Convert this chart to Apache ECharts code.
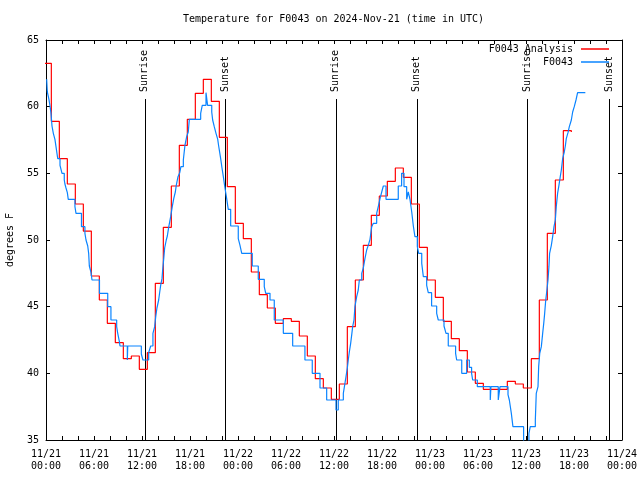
<!DOCTYPE html>
<html>
<head>
<meta charset="utf-8">
<script src="https://cdn.jsdelivr.net/npm/echarts@6/dist/echarts.min.js"></script>
<style>html,body{margin:0;padding:0;background:#fff;}#c{width:640px;height:480px;}</style>
</head>
<body>
<div id="c"></div>
<script>
// ---- data (times in UTC) ----
var titleText = 'Temperature for F0043 on 2024-Nov-21 (time in UTC)';
var seriesNames = ['F0043 Analysis', 'F0043'];
var yMin = 35, yMax = 65, yStep = 5;
var xStart = '11/21 00:00', xEnd = '11/24 00:00';

var redTimes = ['11/20 23:40','11/21 00:40','11/21 01:40','11/21 02:40','11/21 03:40','11/21 04:40','11/21 05:40','11/21 06:40','11/21 07:40','11/21 08:40','11/21 09:40','11/21 10:40','11/21 11:40','11/21 12:40','11/21 13:40','11/21 14:40','11/21 15:40','11/21 16:40','11/21 17:40','11/21 18:40','11/21 19:40','11/21 20:40','11/21 21:40','11/21 22:40','11/21 23:40',
'11/22 00:40','11/22 01:40','11/22 02:40','11/22 03:40','11/22 04:40','11/22 05:40','11/22 06:40','11/22 07:40','11/22 08:40','11/22 09:40','11/22 10:40','11/22 11:40','11/22 12:40','11/22 13:40','11/22 14:40','11/22 15:40','11/22 16:40','11/22 17:40','11/22 18:40','11/22 19:40','11/22 20:40','11/22 21:40','11/22 22:40','11/22 23:40',
'11/23 00:40','11/23 01:40','11/23 02:40','11/23 03:40','11/23 04:40','11/23 05:40','11/23 06:40','11/23 07:40','11/23 08:40','11/23 09:40','11/23 10:40','11/23 11:40','11/23 12:40','11/23 13:40','11/23 14:40','11/23 15:40','11/23 16:40','11/23 17:40'];
var redTemps = [63.25,58.9,56.1,54.2,52.7,50.67,47.3,45.5,43.75,42.3,41.1,41.3,40.3,41.55,46.75,50.95,54.05,57.1,59.05,61.0,62.05,60.4,57.7,54.0,51.25,
50.1,47.6,45.9,44.9,43.75,44.1,43.9,42.8,41.3,39.6,38.9,38.05,39.2,43.5,47.0,49.6,51.85,53.3,54.4,55.4,54.7,52.7,49.45,47.0,
45.7,43.9,42.6,41.7,40.1,39.25,38.8,38.8,38.8,39.4,39.2,38.9,41.1,45.5,50.5,54.5,58.2,58.1];

var blueTimes = ['11/21 00:05','11/21 00:10','11/21 00:22','11/21 00:30','11/21 00:37','11/21 00:45','11/21 00:55','11/21 01:07','11/21 01:15','11/21 01:28','11/21 01:45','11/21 02:00','11/21 02:17','11/21 02:22','11/21 02:30','11/21 02:40','11/21 02:47','11/21 03:37','11/21 03:45','11/21 04:26','11/21 04:52','11/21 05:00','11/21 05:13','11/21 05:20','11/21 05:25','11/21 05:37','11/21 05:45','11/21 06:41','11/21 07:43','11/21 08:07','11/21 08:50','11/21 08:58','11/21 09:10','11/21 09:15','11/21 10:10','11/21 10:13','11/21 11:55','11/21 12:07','11/21 12:50','11/21 13:05','11/21 13:22','11/21 13:35','11/21 13:43','11/21 13:52','11/21 14:05','11/21 14:13','11/21 14:20','11/21 14:30','11/21 14:35','11/21 14:43','11/21 14:50','11/21 15:02','11/21 15:10','11/21 15:20','11/21 15:35','11/21 15:47','11/21 15:58','11/21 16:10','11/21 16:17','11/21 16:30','11/21 16:43','11/21 16:52','11/21 17:10','11/21 17:22','11/21 17:35','11/21 17:47','11/21 17:55','11/21 19:20','11/21 19:32','11/21 20:00','11/21 20:12','11/21 20:43','11/21 20:50','11/21 21:02','11/21 21:15','11/21 21:28','11/21 21:35','11/21 21:50','11/21 22:00','11/21 22:10','11/21 22:20','11/21 22:35','11/21 22:47','11/21 23:05',
'11/22 00:02','11/22 00:15','11/22 00:28','11/22 01:47','11/22 02:32','11/22 03:17','11/22 03:28','11/22 04:00','11/22 04:32','11/22 05:40','11/22 06:50','11/22 08:22','11/22 09:17','11/22 10:15','11/22 11:05','11/22 12:15','11/22 12:32','11/22 13:10','11/22 13:22','11/22 13:30','11/22 13:40','11/22 13:47','11/22 13:55','11/22 14:05','11/22 14:13','11/22 14:20','11/22 14:30','11/22 14:37','11/22 14:50','11/22 15:02','11/22 15:10','11/22 15:28','11/22 15:40','11/22 15:52','11/22 16:05','11/22 16:17','11/22 16:30','11/22 16:43','11/22 16:55','11/22 17:20','11/22 17:32','11/22 17:45','11/22 17:58','11/22 18:10','11/22 18:30','11/22 20:02','11/22 20:27','11/22 20:45','11/22 21:05','11/22 21:17','11/22 21:30','11/22 21:43','11/22 21:55','11/22 22:07','11/22 22:25','11/22 22:35','11/22 22:58','11/22 23:10','11/22 23:35','11/22 23:47',
'11/23 00:12','11/23 00:50','11/23 01:02','11/23 01:45','11/23 02:00','11/23 02:17','11/23 03:12','11/23 03:20','11/23 03:58','11/23 04:35','11/23 04:55','11/23 05:12','11/23 05:20','11/23 05:55','11/23 07:32','11/23 07:37','11/23 08:32','11/23 08:45','11/23 09:45','11/23 09:55','11/23 10:10','11/23 10:22','11/23 11:42','11/23 12:22','11/23 12:32','11/23 13:10','11/23 13:17','11/23 13:30','11/23 13:35','11/23 13:43','11/23 13:55','11/23 14:05','11/23 14:13','11/23 14:20','11/23 14:28','11/23 14:37','11/23 14:45','11/23 14:52','11/23 14:57','11/23 15:10','11/23 15:20','11/23 15:30','11/23 15:40','11/23 15:47','11/23 15:57','11/23 16:07','11/23 16:17','11/23 16:25','11/23 16:35','11/23 16:47','11/23 16:55','11/23 17:02','11/23 17:15','11/23 17:25','11/23 17:40','11/23 17:50','11/23 18:02','11/23 18:15','11/23 18:27','11/23 19:25'];
var blueTemps = [62.05,61.1,60.55,60.05,59.55,58.55,58.0,57.55,57.0,56.1,55.6,55.0,54.5,54.2,53.9,53.55,53.05,52.5,52.0,51.0,50.5,50.0,49.55,49.0,48.05,47.6,47.0,46.0,45.0,44.0,43.5,43.0,42.4,42.05,41.0,42.05,41.45,41.0,41.55,42.05,43.0,43.5,44.25,44.9,45.5,46.1,46.6,47.1,47.75,48.6,49.4,50.0,50.3,50.95,51.75,52.5,53.1,53.6,54.1,54.75,55.05,55.5,56.0,57.1,57.75,58.1,59.05,59.5,60.1,61.05,60.1,59.6,59.0,58.5,58.0,57.55,57.05,56.1,55.4,54.75,54.05,53.1,52.3,51.05,
50.1,49.6,49.0,48.05,47.05,46.5,46.0,45.5,44.0,43.0,42.05,41.0,40.0,38.9,38.0,37.25,38.0,38.5,39.25,39.75,40.4,41.0,41.6,42.25,42.9,43.5,44.0,45.0,45.75,46.25,47.0,47.5,47.9,48.6,49.25,49.6,50.05,51.0,51.25,52.0,52.5,53.1,53.6,54.05,53.05,54.05,55.0,54.0,53.05,53.6,53.05,52.1,51.05,50.25,49.5,49.0,48.25,47.25,46.6,46.05,
45.05,44.5,44.0,43.55,43.0,42.05,41.5,41.0,40.0,41.0,40.45,40.0,39.5,39.0,38.0,39.0,38.0,39.0,38.4,38.0,37.0,36.0,34.8,35.5,36.0,36.5,38.5,39.0,40.5,41.5,42.0,43.0,43.75,44.5,45.5,46.25,47.0,48.0,49.0,49.6,50.25,51.0,51.5,52.5,53.5,54.1,54.75,55.25,56.1,56.6,57.05,57.6,58.05,58.5,59.0,59.6,60.0,60.5,61.05,61.05];

var sunTimes = ['11/21 12:19','11/21 22:26','11/22 12:13','11/22 22:20','11/23 12:10','11/23 22:22'];
var sunLabels = ['Sunrise','Sunset','Sunrise','Sunset','Sunrise','Sunset'];

// ---- helpers ----
function toMs(s){
  var p = s.split(' '), md = p[0].split('/'), hm = p[1].split(':');
  return Date.UTC(2024, +md[0]-1, +md[1], +hm[0], +hm[1]);
}
function pad(n){ return (n<10?'0':'')+n; }
function fmtX(v){
  var d = new Date(v);
  return pad(d.getUTCMonth()+1)+'/'+pad(d.getUTCDate())+'\n'+pad(d.getUTCHours())+':'+pad(d.getUTCMinutes());
}
function pairs(ts, vs){ return ts.map(function(t,i){ return [toMs(t), vs[i]]; }); }

var FONT = 'DejaVu Sans Mono';
var HOUR = 3600*1000;
var xMinV = toMs(xStart), xMaxV = toMs(xEnd);

var baseX = {
  type:'value', min:xMinV, max:xMaxV, interval:6*HOUR,
  axisLine:{show:true, lineStyle:{color:'#000', width:1}},
  axisTick:{show:true, inside:true, length:4, lineStyle:{color:'#000'}},
  minorTick:{show:true, splitNumber:3, length:4, lineStyle:{color:'#000'}},
  splitLine:{show:false}
};
var chart = echarts.init(document.getElementById('c'), null, {renderer:'canvas'});
chart.setOption({
  animation:false,
  backgroundColor:'#fff',
  title:{text:titleText, left:183, top:14, padding:0, textStyle:{fontFamily:FONT, fontSize:10, fontWeight:'normal', color:'#000'}},
  legend:[
    {data:[seriesNames[0]], orient:'vertical', right:31, top:44, padding:0, align:'right', icon:'rect', itemWidth:28, itemHeight:1.5,
     textStyle:{fontFamily:FONT, fontSize:10, color:'#000', padding:[0,3,0,0]}},
    {data:[seriesNames[1]], orient:'vertical', right:31, top:57, padding:0, align:'right', icon:'rect', itemWidth:28, itemHeight:1.5,
     textStyle:{fontFamily:FONT, fontSize:10, color:'#000', padding:[0,3,0,0]}}
  ],
  grid:{left:46, right:18, top:40, bottom:40, show:false, containLabel:false, outerBoundsMode:'none'},
  xAxis:[
    Object.assign({}, baseX, {position:'bottom',
      axisLabel:{show:true, formatter:fmtX, fontFamily:FONT, fontSize:10, color:'#000', lineHeight:12, margin:8, showMinLabel:true, showMaxLabel:true, hideOverlap:false}}),
    Object.assign({}, baseX, {position:'top', axisLabel:{show:false}})
  ],
  yAxis:[
    {type:'value', min:yMin, max:yMax, interval:yStep, position:'left',
     name:'degrees F', nameLocation:'middle', nameGap:31, nameRotate:90,
     nameTextStyle:{fontFamily:FONT, fontSize:10, color:'#000'},
     axisLine:{show:true, lineStyle:{color:'#000'}},
     axisTick:{show:true, inside:true, length:4, lineStyle:{color:'#000'}},
     axisLabel:{fontFamily:FONT, fontSize:10, color:'#000', margin:7},
     splitLine:{show:false}},
    {type:'value', min:yMin, max:yMax, interval:yStep, position:'right',
     axisLine:{show:true, lineStyle:{color:'#000'}},
     axisTick:{show:true, inside:true, length:4, lineStyle:{color:'#000'}},
     axisLabel:{show:false}, splitLine:{show:false}}
  ],
  series:[
    {name:seriesNames[0], type:'line', step:'end', data:pairs(redTimes, redTemps), showSymbol:false, symbol:'none',
     clip:true, lineStyle:{color:'#ff0000', width:1.2}, itemStyle:{color:'#ff0000'}},
    {name:seriesNames[1], type:'line', step:'end', data:pairs(blueTimes, blueTemps), showSymbol:false, symbol:'none',
     clip:true, lineStyle:{color:'#0a84ff', width:1.2}, itemStyle:{color:'#0a84ff'}},
    {name:'sun', type:'custom', data:sunTimes.map(function(t){ return [toMs(t)]; }),
     renderItem:function(params, api){
       var t = api.value(0);
       var pb = api.coord([t, yMin]);
       var pt = api.coord([t, yMax]);
       var lineTop = pt[1] + 59;
       return {type:'group', children:[
         {type:'line', shape:{x1:Math.round(pb[0])+0.5, y1:pb[1], x2:Math.round(pb[0])+0.5, y2:lineTop}, style:{stroke:'#000', lineWidth:1}},
         {type:'text', x:pb[0], y:lineTop-7, rotation:Math.PI/2,
          style:{text:sunLabels[params.dataIndex], font:'10px '+FONT, fill:'#000', textAlign:'left', textVerticalAlign:'middle'}}
       ]};
     }, z:3}
  ]
});
</script>
</body>
</html>
